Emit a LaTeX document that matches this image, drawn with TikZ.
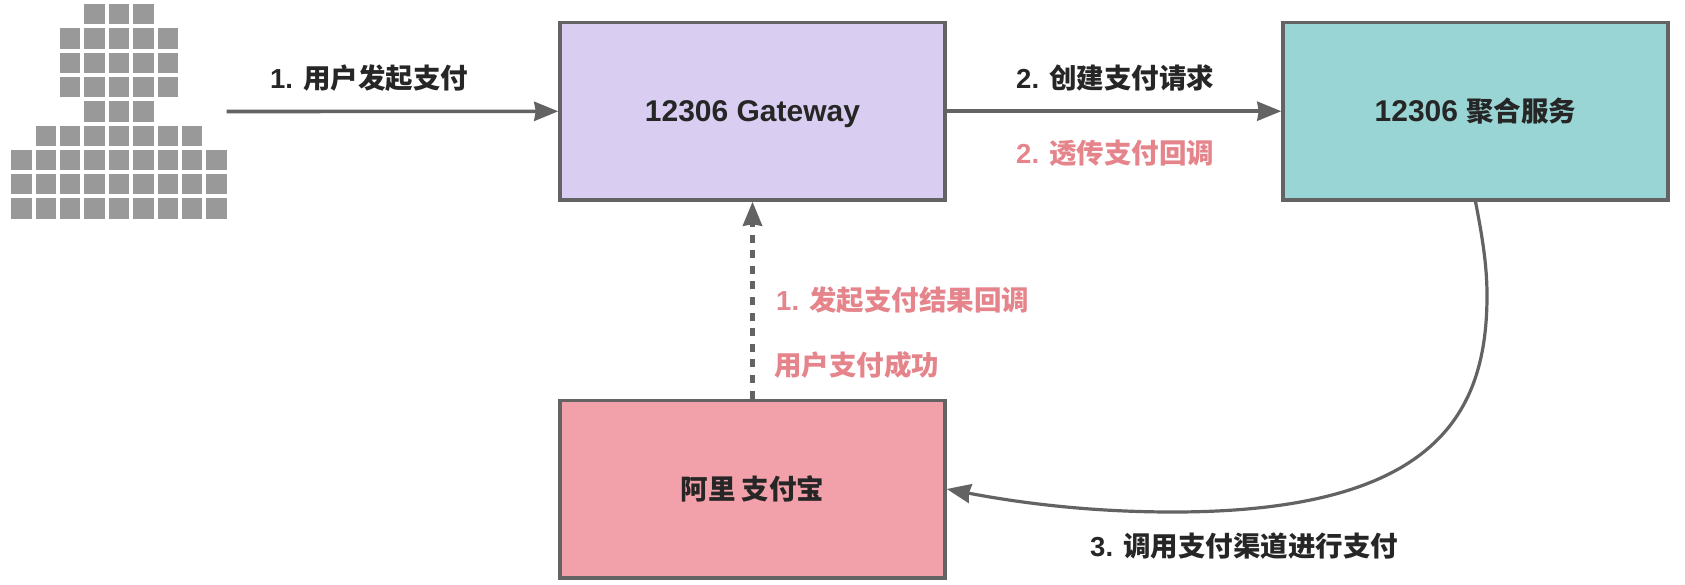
\documentclass[tikz,border=0pt]{standalone}
\usepackage{fontspec}
\setmainfont{Liberation Sans}
\newfontfamily\cjkfont{Noto Sans CJK SC}
\usetikzlibrary{arrows.meta}
\definecolor{edgegray}{HTML}{636363}
\definecolor{textdark}{HTML}{262626}
\definecolor{textred}{HTML}{E5848B}
\newcommand{\zh}[1]{{\fontsize{27.5}{32}\cjkfont\bfseries #1}}
\tikzset{
  box/.style={draw=edgegray, line width=3.5pt, minimum width=385pt, minimum height=177.5pt,
    inner sep=0pt, text=textdark, text height=21pt, text depth=0pt, font=\fontsize{30}{36}\bfseries},
  lbl/.style={anchor=west, inner sep=0pt, text height=21pt, text depth=0pt, text=textdark,
    font=\fontsize{27.5}{32}\bfseries},
  flow/.style={draw=edgegray, line width=3.6pt, -{Stealth[length=24pt,width=19pt,inset=1.5pt]}}
}
\begin{document}
\begin{tikzpicture}[x=1pt,y=-1pt]
  \useasboundingbox (0,0) rectangle (1685,584);
  \fill[white] (0,0) rectangle (1685,584);
  % user icon
  \foreach \y/\first/\last in {0/3/5,1/2/6,2/2/6,3/2/6,4/3/5,5/1/7,6/0/8,7/0/8,8/0/8} {
      \foreach \x in {\first,...,\last} {
          \fill[fill=black!40] (11.2+24.4*\x,4+24.3*\y) rectangle ++(20.3,20.3);
      }
  }
  %
  \coordinate (user) at (226.7,111.5);
  \node[box, fill={rgb,255:red,217;green,206;blue,241}] (gateway) at (752.5,111.2) {12306 Gateway};
  \node[box, fill={rgb,255:red,154;green,213;blue,213}] (service) at (1475.5,111.2) {12306 \zh{聚合服务}};
  \node[box, fill={rgb,255:red,242;green,160;blue,170}] (alipay) at (752.5,489) {\zh{阿里 支付宝}};
  %
  \draw[flow] (user) -- (gateway);
  \draw[flow] (gateway) -- (service);
  \draw[flow, line width=4.4pt, dash pattern=on 8pt off 7.6pt] (alipay) -- (gateway);
  \draw[flow, line width=3.2pt] (service.south) .. controls (1482,235) and (1487,265) .. (1487,295)
    .. controls (1487,410) and (1440,512) .. (1173,512)
    .. controls (1090,512) and (1020,503) .. (alipay.east);
  %
  \node[lbl] (paystart) at (270,78) {1. \zh{用户发起支付}};
  \node[lbl] (payreq) at (1016,78) {2. \zh{创建支付请求}};
  \node[lbl, text=textred] (passback) at (1016,153) {2. \zh{透传支付回调}};
  \node[lbl, text=textred] (callback) at (776,300) {1. \zh{发起支付结果回调}};
  \node[lbl, text=textred] (paid) at (774,365) {\zh{用户支付成功}};
  \node[lbl] (channel) at (1090,546) {3. \zh{调用支付渠道进行支付}};
\end{tikzpicture}
\end{document}
